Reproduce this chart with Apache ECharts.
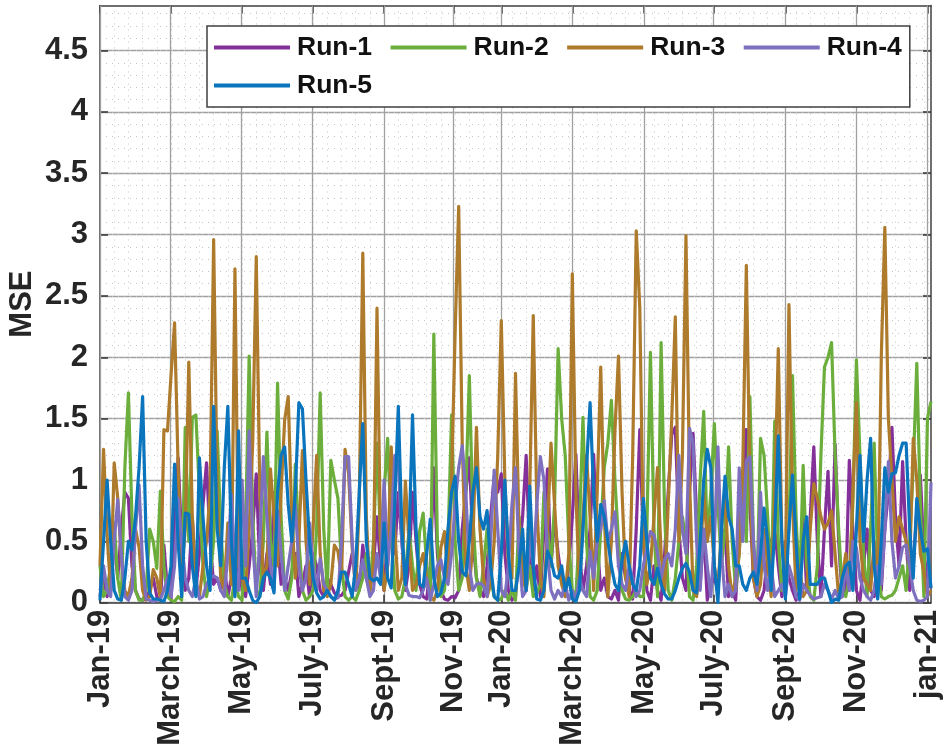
<!DOCTYPE html>
<html><head><meta charset="utf-8">
<style>html,body{margin:0;padding:0;background:#fff}#c{width:950px;height:752px}</style>
<script src="https://cdn.jsdelivr.net/npm/echarts@6/dist/echarts.min.js"></script>
</head><body><div id="c"></div>
<script>
const seriesNames=['Run-1','Run-2','Run-3','Run-4','Run-5'];
const tickLabels=['Jan-19','March-19','May-19','July-19','Sept-19','Nov-19','Jan-20','March-20','May-20','July-20','Sept-20','Nov-20','jan-21'];
const tickIndex=[0,19.8,39.8,59.8,80,99.5,113,133,153.2,172.8,193,213,233];
const yTicks=[0,0.5,1,1.5,2,2.5,3,3.5,4,4.5];
const run1=[.1,.2,.05,.3,.5,.2,.6,.9,.85,.3,.1,.03,.02,.03,.1,.2,.05,.02,.47,.1,
.03,.6,1.18,.5,.1,.2,.7,.1,.4,.8,1.14,.5,.15,.2,.1,.3,.05,.2,.1,.4,
.1,.05,.3,.6,1.05,.3,.1,.4,.15,.9,.5,.15,.2,.1,.25,.4,.05,.15,.3,.05,
.4,.3,.1,.05,.2,.15,.08,.05,.06,.1,.25,.4,.3,.1,.47,.2,.1,.3,.7,.3,
.1,.5,.8,.4,.9,.5,.1,.3,.9,.5,.15,.05,.03,.3,1.1,.4,.1,.03,.02,.05,
.04,.1,.6,.9,1.18,.5,.2,.1,.05,.3,.7,1.03,.9,1.05,.4,.1,.02,.05,.4,.7,
1.2,.4,.1,.3,.05,.6,1.09,.3,.7,.4,.2,.05,.3,.7,1.21,.4,.1,.3,.6,1.21,
.5,.1,.2,.05,.03,.1,.02,.4,.2,.1,.03,.6,1.41,.5,.1,.02,.3,.1,.02,.4,
.9,1.37,1.43,.6,.2,.1,.9,1.38,.7,.15,.6,.02,.15,.2,.1,.5,.6,.05,.1,.02,
.5,1,1.41,.8,.2,.05,.02,.1,.4,.5,.6,.3,.05,.5,.2,.1,.02,.1,.7,.1,
.7,1.27,.5,.05,.6,1.07,.3,1.29,.5,.05,.1,1.16,.6,.1,.02,.3,.6,.1,.05,.4,
.1,.6,.9,1.43,.7,.3,1.15,.5,.1,.3,.75,1.04,.4,.2,.12];
const run2=[.3,.05,.1,.3,.65,.2,.02,1.1,1.71,.7,.1,.02,.02,.1,.6,.5,.28,.91,.3,.05,
.02,.01,.05,.02,1.43,.5,1.51,1.53,.9,.3,.05,.2,.5,1.4,.6,.15,.05,.02,.2,.05,
.02,.6,2.01,.7,.1,.05,.5,1.39,.5,.3,1.79,.7,.1,.03,.2,1.13,.5,.1,.02,.05,
.1,.6,1.71,.6,.1,1.16,1,.85,.3,.05,.02,.05,.02,.1,.2,.4,.1,.5,1.3,.5,
.9,1.34,.6,.1,.03,.05,.2,.6,.3,.1,.58,.73,.3,.02,2.19,.5,.05,.1,.5,1.53,
.5,.1,.2,.9,1.85,.7,.2,.05,.3,.6,.2,.05,.02,.03,.1,.02,.1,.02,.7,.25,
.1,.3,.05,.08,.15,.9,.6,.3,.8,2.07,1.5,1.2,.5,.1,.05,.6,1.51,.5,.05,.02,
.1,.6,1.1,1.3,1.65,1,.5,.1,.03,.02,.05,.1,.05,.05,.6,2.04,.6,.05,2.12,.7,
.1,.02,.2,.5,.7,.5,.05,.02,.3,1,1.56,.5,.9,1.46,.8,.3,.6,1.27,.5,.1,
.4,1,.5,1.68,.5,.1,1.34,1.2,.7,.1,1.48,.5,.1,.3,.6,1.85,.7,.1,1.12,.3,
.05,.02,.3,1.2,1.92,2,2.12,1.2,.6,.1,.05,.2,.8,1.98,1.2,.4,.05,.6,1.3,.3,
.05,.03,.05,.06,.1,.2,.3,.1,.5,1.1,1.95,.8,.05,1.5,1.64];
const run3=[.3,1.25,.55,.1,1.14,.85,.35,.1,.05,.2,.6,.45,.1,.02,.05,.27,.2,.04,1.41,1.4,
1.85,2.28,1.1,.25,.6,1.96,.7,.15,.05,.3,.5,.9,2.96,.9,.2,.1,.65,.15,2.72,.3,
.2,.1,.6,1.3,2.82,.9,.2,.3,1.09,.7,.3,.9,1.49,1.68,.7,.2,.5,1.24,.5,.15,
.6,1.2,.4,.1,.05,.15,.47,.42,.2,1.25,1.05,.45,.1,.8,2.85,.7,.1,.3,2.4,.5,
.1,.3,1.27,.6,.1,.2,.99,.5,.1,.15,.3,.4,.2,.05,.02,.1,.45,.58,.2,1,
2.2,3.23,1.3,.3,.1,.5,1.43,.6,.2,.05,.15,.5,1.2,2.3,1,.3,.2,1.87,.6,.2,
.1,.9,2.34,.8,.2,.05,.6,1.3,.8,.3,.15,.05,.4,2.68,.9,.1,.7,1.2,.7,.1,
.9,1.92,.7,.05,.5,1.4,2.01,.9,.2,.05,1.2,3.03,2.4,.5,.15,.3,.7,1.1,.4,.1,
.8,1.5,2.33,.5,1.2,2.99,1,.1,.05,.3,.9,.5,.7,.3,.1,.6,.9,.3,.05,.2,
.4,1.1,2.75,1,.2,.05,.15,.6,.3,.05,.9,2.07,.5,.2,2.43,.8,.1,.3,.05,.1,
.6,.97,.85,.7,.6,.65,.75,.4,.05,.2,.4,.1,.9,1.63,.5,.2,.15,.1,.5,.1,
2,3.06,1.5,1,.5,.7,.6,.5,.3,1.34,1,.4,.25,.05,.1];
const run4=[.05,.3,.1,.05,.5,.84,.4,.05,.02,.1,.6,.96,.3,.03,.02,.01,.02,.03,.1,.2,
.05,.3,.85,.5,.2,.1,.05,.2,.03,.05,.15,.2,.22,.2,.1,.05,.4,.88,.3,.1,
1,.3,1.4,.5,.05,.5,1.19,.7,.3,.1,.75,.4,.1,.3,.5,.8,.3,.1,.2,.65,
.3,.1,.36,.15,.1,.05,.03,.04,.5,1.19,1.19,.5,.1,.2,.35,.2,.05,.1,.4,.2,
1,.3,.6,1.2,1.15,.5,.15,.06,.05,.05,.04,.1,.2,.02,.15,.3,.35,.2,.15,.4,
.8,1.1,1.28,.9,.3,.1,.15,.16,.14,.05,.5,1.08,.6,.1,.05,.3,.8,1.1,.4,.05,
.1,.5,.3,.8,1.19,1,.4,.1,.03,.1,.05,.15,.02,.1,.02,.2,.1,.05,.42,.2,
.5,.6,.83,.5,.6,.74,.3,.15,.1,.3,.2,.05,.1,.3,.45,.58,.55,.4,.2,.35,
.4,.3,.6,1.2,.6,.4,1.42,1.3,.5,.1,.6,.3,.05,.5,1.27,.4,.05,.15,.05,.1,
1.1,.5,1.15,1.19,.5,.1,.9,.3,.1,.3,.05,.1,.15,.05,.3,.2,.05,.02,.15,.1,
.06,.03,.04,.05,.15,.1,.03,.1,.03,.05,.3,.1,.5,.45,.2,.1,.05,.02,.1,.3,
.15,.6,1.15,.5,.2,.3,.45,.47,.3,.1,.02,.01,.02,.05,.98];
const run5=[.02,.5,1,.5,.1,.03,.02,.2,.5,.43,.7,1.1,1.68,.5,.08,.03,.03,.02,.01,.1,
.3,1.13,.5,.05,.73,.72,.3,.05,1.18,.7,.3,.1,1.6,.6,.3,1.1,1.6,.5,.05,1.4,
.2,.2,.1,.02,0,.05,.2,.25,.2,.08,.9,1.2,1.27,.8,.5,.9,1.63,1.58,1,.5,
.2,.08,.03,.05,.1,.05,.02,.1,.25,.25,.15,.05,.3,.9,1.46,.5,.2,.18,.2,.15,
.65,.2,.12,.8,1.6,.6,.15,.5,1.53,.6,.15,.13,.4,.68,.2,.05,.08,.2,.6,.9,
1.03,.5,.25,.22,.5,.9,1.1,.7,.6,.75,.3,.05,.02,.4,1,.4,.1,.1,.3,.6,
.1,.95,.3,.03,.02,.1,.42,.35,.22,.2,.3,.1,.2,.03,.01,.1,.6,1.1,1.63,.9,
.5,.8,.7,.5,.3,.15,.1,.35,.5,.3,.15,.1,.3,.85,.5,.2,.15,.28,.15,.07,
.03,.03,.1,.2,.28,.32,.25,.1,.08,.5,1,1.25,1.1,.3,0,.6,1.03,.7,.6,.3,
.3,.15,.1,.2,.25,.15,.4,.77,.5,.1,.6,1.36,.5,.03,.6,1.04,.5,.03,.5,.7,
.15,.15,.15,.2,.2,.1,0,.03,.02,.2,.3,.33,.1,.6,1.2,.5,1,1.34,.3,.03,
.5,1.1,.9,1.05,1.06,1.2,1.3,1.3,.6,.2,.85,.6,.42,.44,.12];
const runs=[run1,run2,run3,run4,run5];
const colors=['#84309a','#6cae3c','#ae7a2c','#7d70bf','#0a74bd'];
const minorX=[];for(let i=0;i<=234;i+=4)minorX.push(i);
const minorY=[];for(let i=0;i<=48;i++)minorY.push(i/10);
const font='"Liberation Sans",Arial,sans-serif';
const ax='#404040';
const xMax=234,yMax=4.867;
const legendBase={icon:'rect',itemWidth:76,itemHeight:4,itemGap:18.5,orient:'horizontal',
  textStyle:{fontFamily:font,fontWeight:'bold',fontSize:26.5,color:'#111',padding:[0,0,0,2]}};
const chart=echarts.init(document.getElementById('c'),null,{renderer:'canvas'});
chart.setOption({
 animation:false,
 backgroundColor:'#fff',
 color:colors,
 grid:{left:100,top:5.5,width:831,height:597.2,containLabel:false,outerBoundsMode:'none'},
 legend:[
  Object.assign({},legendBase,{data:seriesNames.slice(0,4),left:207,top:26,
    backgroundColor:'#fff',borderColor:ax,borderWidth:1.5,padding:[8,8,46,7],z:4}),
  Object.assign({},legendBase,{data:seriesNames.slice(4),left:214,top:72,padding:0,z:5})
 ],
 xAxis:[
  {type:'value',min:0,max:xMax,position:'bottom',
   axisLine:{show:true,onZero:false,lineStyle:{color:ax,width:1.5}},
   axisTick:{show:true,inside:true,length:8,customValues:tickIndex,lineStyle:{color:'#333',width:1.5}},
   axisLabel:{show:true,customValues:tickIndex,rotate:90,margin:7,fontFamily:font,fontWeight:'bold',fontSize:31,color:'#262626',
     formatter:v=>tickLabels[tickIndex.indexOf(v)]},
   splitLine:{show:true,lineStyle:{color:'#a0a0a0',width:1.3}},z:3},
  {type:'value',min:0,max:xMax,position:'top',
   axisLine:{show:true,onZero:false,lineStyle:{color:ax,width:1.5}},
   axisTick:{show:true,inside:true,length:8,customValues:tickIndex,lineStyle:{color:'#333',width:1.5}},
   axisLabel:{show:false},splitLine:{show:false}},
  {type:'value',min:0,max:xMax,position:'bottom',
   axisLine:{show:false},axisTick:{show:false,customValues:minorX},axisLabel:{show:false},
   splitLine:{show:true,lineStyle:{color:'#c4c4c4',width:1,type:[1,5]}}}
 ],
 yAxis:[
  {type:'value',min:0,max:yMax,position:'left',
   name:'MSE',nameLocation:'middle',nameGap:62,nameRotate:90,nameMoveOverlap:false,
   nameTextStyle:{fontFamily:font,fontWeight:'bold',fontSize:31,color:'#262626'},
   axisLine:{show:true,onZero:false,lineStyle:{color:ax,width:1.5}},
   axisTick:{show:true,inside:true,length:8,customValues:yTicks,lineStyle:{color:'#333',width:1.5}},
   axisLabel:{show:true,customValues:yTicks,margin:12,padding:[10,0,0,0],fontFamily:font,fontWeight:'bold',fontSize:31,color:'#262626',formatter:v=>String(v)},
   splitLine:{show:true,lineStyle:{color:'#a0a0a0',width:1.3}}},
  {type:'value',min:0,max:yMax,position:'right',
   axisLine:{show:true,onZero:false,lineStyle:{color:ax,width:1.5}},
   axisTick:{show:true,inside:true,length:8,customValues:yTicks,lineStyle:{color:'#333',width:1.5}},
   axisLabel:{show:false},splitLine:{show:false}},
  {type:'value',min:0,max:yMax,position:'left',
   axisLine:{show:false},axisTick:{show:false,customValues:minorY},axisLabel:{show:false},
   splitLine:{show:true,lineStyle:{color:'#c4c4c4',width:1,type:[1,5]}}}
 ],
 series:runs.map((r,k)=>({name:seriesNames[k],type:'line',xAxisIndex:0,yAxisIndex:0,
   data:r.map((v,i)=>[i,v]),showSymbol:false,symbol:'none',smooth:false,clip:true,
   lineStyle:{width:3.2,color:colors[k],join:'round'},itemStyle:{color:colors[k]}}))
});
</script></body></html>
